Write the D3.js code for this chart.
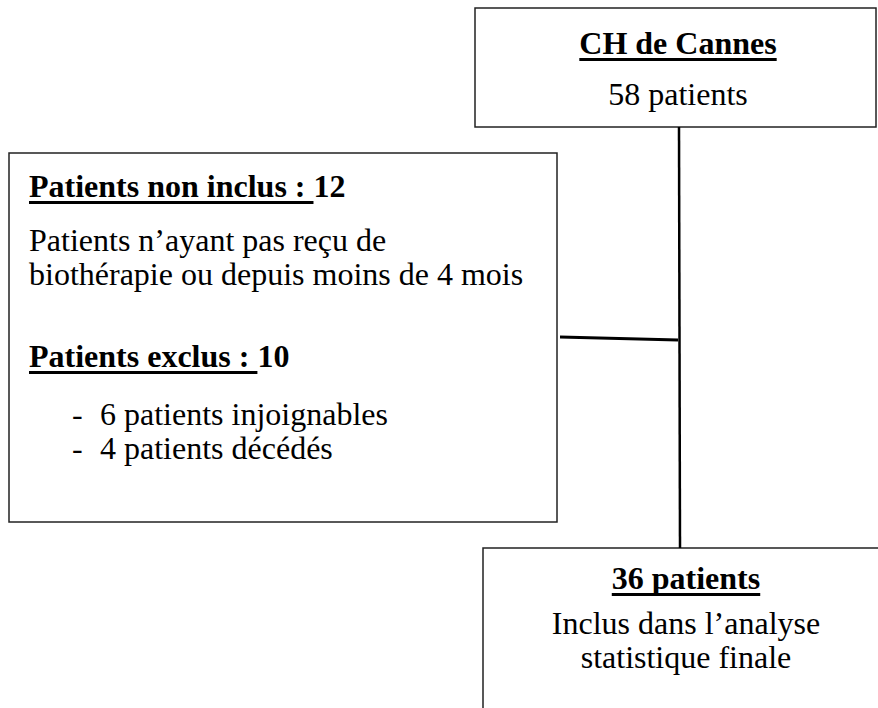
<html>
<head>
  <script src="https://d3js.org/d3.v7.min.js"></script>
  <style>
    body { margin: 0; background: #fff; }
    text { font-family: "Liberation Serif", "Times New Roman", serif; fill: #000; }
  </style>
</head>
<body>
  <div id="chart"></div>
  <script>
    // counts
    const totalPatients = 58;
    const notIncluded = 12;
    const excluded = 10;
    const excludedReasons = ["patients injoignables", "patients décédés"];
    const excludedCounts = [6, 4];
    const analysed = 36;

    const centreName = "CH de Cannes";
    const notIncludedText = ["Patients n’ayant pas reçu de", "biothérapie ou depuis moins de 4 mois"];
    const analysedText = ["Inclus dans l’analyse", "statistique finale"];

    const w = 878;
    const h = 708;
    const fs = 32;

    const svg = d3.select("#chart")
      .append("svg")
      .attr("width", w)
      .attr("height", h);

    // boxes
    const boxes = [
      {x: 475, y: 8, w: 401, h: 119},
      {x: 9, y: 153, w: 548, h: 369},
      {x: 483, y: 548, w: 420, h: 200}
    ];

    svg.selectAll("rect.box")
      .data(boxes)
      .enter()
      .append("rect")
      .attr("class", "box")
      .attr("x", d => d.x)
      .attr("y", d => d.y)
      .attr("width", d => d.w)
      .attr("height", d => d.h)
      .attr("fill", "#fff")
      .attr("stroke", "#222")
      .attr("stroke-width", 1.5);

    // connectors
    svg.append("line")
      .attr("x1", 679).attr("y1", 127)
      .attr("x2", 680).attr("y2", 548)
      .attr("stroke", "#000").attr("stroke-width", 2.5);

    svg.append("line")
      .attr("x1", 560).attr("y1", 337)
      .attr("x2", 678).attr("y2", 340)
      .attr("stroke", "#000").attr("stroke-width", 3);

    // text lines
    const bulletY = [425, 459];
    const lines = [
      {x: 678, y: 54, u: centreName, t: "", bold: true, anchor: "middle"},
      {x: 678, y: 105, u: "", t: totalPatients + " patients", bold: false, anchor: "middle"},
      {x: 29, y: 197, u: "Patients non inclus : ", t: String(notIncluded), bold: true, anchor: "start"},
      {x: 29, y: 251, u: "", t: notIncludedText[0], bold: false, anchor: "start"},
      {x: 29, y: 285, u: "", t: notIncludedText[1], bold: false, anchor: "start"},
      {x: 29, y: 367, u: "Patients exclus : ", t: String(excluded), bold: true, anchor: "start"},
      {x: 100, y: bulletY[0], u: "", t: excludedCounts[0] + " " + excludedReasons[0], bold: false, anchor: "start"},
      {x: 100, y: bulletY[1], u: "", t: excludedCounts[1] + " " + excludedReasons[1], bold: false, anchor: "start"},
      {x: 686, y: 589, u: analysed + " patients", t: "", bold: true, anchor: "middle"},
      {x: 686, y: 634, u: "", t: analysedText[0], bold: false, anchor: "middle"},
      {x: 686, y: 668, u: "", t: analysedText[1], bold: false, anchor: "middle"}
    ];

    const texts = svg.selectAll("text.line")
      .data(lines)
      .enter()
      .append("text")
      .attr("class", "line")
      .attr("x", d => d.x)
      .attr("y", d => d.y)
      .attr("font-size", fs)
      .attr("font-weight", d => d.bold ? "bold" : "normal")
      .attr("text-anchor", d => d.anchor)
      .style("white-space", "pre");

    texts.append("tspan").attr("class", "u").text(d => d.u);
    texts.append("tspan").text(d => d.t);

    // underline drawn by hand so it is as thick as the original
    texts.each(function(d) {
      if (!d.u) return;
      const node = d3.select(this).select("tspan.u").node();
      const full = this.getBBox();
      const uw = node.getComputedTextLength();
      svg.append("rect")
        .attr("x", full.x)
        .attr("y", d.y + 4)
        .attr("width", uw)
        .attr("height", 3)
        .attr("fill", "#000");
    });

    // bullet dashes
    svg.selectAll("text.dash")
      .data(excludedCounts)
      .enter()
      .append("text")
      .attr("class", "dash")
      .attr("x", 72)
      .attr("y", (d, i) => bulletY[i])
      .attr("font-size", fs)
      .text("-");
  </script>
</body>
</html>
